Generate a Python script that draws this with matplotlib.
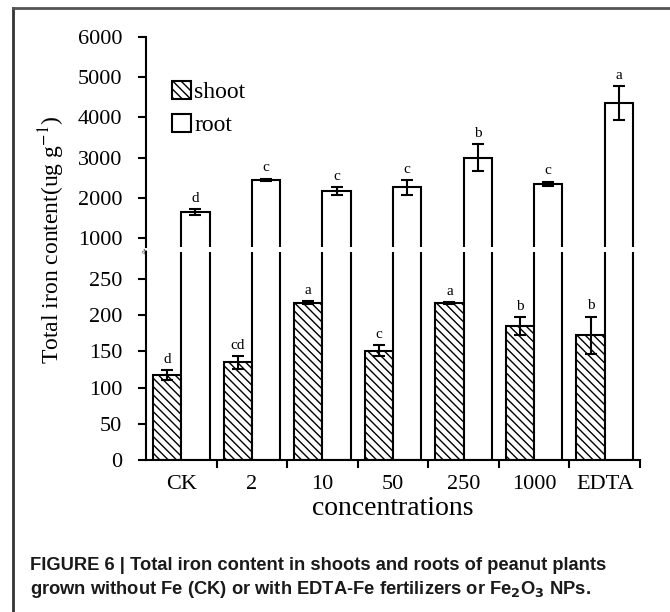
import matplotlib
matplotlib.use('Agg')
import matplotlib.pyplot as plt
from matplotlib.patches import Patch
from matplotlib.lines import Line2D
import numpy as np

categories = ['CK', '2', '10', '50', '250', '1000', 'EDTA']
shoot = [117, 135, 217, 151, 217, 185, 172]
shoot_err = [7, 9, 2, 8, 1, 12, 26]
shoot_letters = ['d', 'cd', 'a', 'c', 'a', 'b', 'b']
root = [1650, 2450, 2170, 2260, 3000, 2355, 4350]
root_err = [75, 30, 100, 190, 330, 50, 420]
root_letters = ['d', 'c', 'c', 'c', 'b', 'c', 'a']
upper_ticks = [1000, 2000, 3000, 4000, 5000, 6000]
lower_ticks = [0, 50, 100, 150, 200, 250]

plt.rcParams['font.family'] = ['Liberation Serif', 'DejaVu Serif']
plt.rcParams['hatch.linewidth'] = 1.0

W, H = 670, 612
fig = plt.figure(figsize=(W / 100, H / 100), dpi=100)


def box(l, t, r, b):
    return [l / W, 1 - b / H, (r - l) / W, (b - t) / H]


ax_lo = fig.add_axes(box(146, 252, 640, 460))
ax_hi = fig.add_axes(box(146, 36.7, 640, 247))

x = np.arange(len(categories))
bw = 0.4
hatch = '\\\\\\\\'
ekw = dict(fmt='none', ecolor='black', elinewidth=1.5, capsize=4, capthick=1.5)

for ax in (ax_lo, ax_hi):
    ax.bar(x - bw / 2, shoot, bw, facecolor='white', edgecolor='black',
           linewidth=1.5, hatch=hatch)
    ax.bar(x + bw / 2, root, bw, facecolor='white', edgecolor='black',
           linewidth=1.5)
    ax.set_xlim(-0.5, len(categories) - 0.5)
    for s in ('top', 'right'):
        ax.spines[s].set_visible(False)
    ax.spines['left'].set_linewidth(1.5)
    ax.spines['bottom'].set_linewidth(1.5)
    ax.tick_params(axis='y', direction='out', length=6, width=1.5, pad=11,
                   labelsize=16)

ax_hi.errorbar(x + bw / 2, root, yerr=root_err, **ekw)
ax_lo.errorbar(x - bw / 2, shoot, yerr=shoot_err, **ekw)

for xi, v, e, l in zip(x, root, root_err, root_letters):
    ax_hi.annotate(l, (xi + bw / 2, v + e), xytext=(0, 3),
                   textcoords='offset points', ha='center', va='bottom',
                   fontsize=11)
for xi, v, e, l in zip(x, shoot, shoot_err, shoot_letters):
    ax_lo.annotate(l, (xi - bw / 2, v + e), xytext=(0, 3),
                   textcoords='offset points', ha='center', va='bottom',
                   fontsize=11)

ax_hi.set_ylim(784, 6000)
ax_hi.set_yticks(upper_ticks)
ax_hi.spines['bottom'].set_visible(False)
ax_hi.set_xticks([])

ax_lo.set_ylim(0, 287.3)
ax_lo.set_yticks(lower_ticks)
ax_lo.set_xticks(np.append(x[:-1] + 0.5, len(categories) - 0.5))
ax_lo.set_xticklabels([])
ax_lo.set_xticks(x, minor=True)
ax_lo.set_xticklabels(categories, minor=True)
ax_lo.tick_params(axis='x', which='major', direction='out', length=6, width=1.5)
ax_lo.tick_params(axis='x', which='minor', length=0, pad=11, labelsize=16)
ax_lo.set_xlabel('concentrations', fontsize=20, labelpad=1)

# break mark on the y axis
fig.text(145 / W, 1 - 251 / H, '\u2248', fontsize=7, ha='center', va='center',
         rotation=60)

fig.text(52 / W, 1 - 240 / H, 'Total iron content(ug g$^{-1}$)', rotation=90,
         fontsize=17, ha='center', va='center', math_fontfamily='stix')

handles = [Patch(facecolor='white', edgecolor='black', hatch=hatch, linewidth=1.5),
           Patch(facecolor='white', edgecolor='black', linewidth=1.5)]
fig.legend(handles, ['shoot', 'root'], loc='upper left',
           bbox_to_anchor=(172 / W, 1 - 81 / H), frameon=False, fontsize=17,
           handlelength=0.8, handleheight=0.8, handletextpad=0.15,
           labelspacing=0.45, borderpad=0, borderaxespad=0)

# frame of the figure panel
fig.add_artist(Line2D([13 / W, 13 / W], [0, 1 - 8 / H], color='#333333', lw=2))
fig.add_artist(Line2D([13 / W, 1], [1 - 8 / H, 1 - 8 / H], color='#555555', lw=2))

cap_kw = dict(fontfamily='Liberation Sans', fontweight='bold', fontsize=13.2,
              ha='left', va='center', color='#1a1a1a', math_fontfamily='dejavusans')
fig.text(30 / W, 1 - 566 / H,
         'FIGURE 6 | Total iron content in shoots and roots of peanut plants', **cap_kw)
fig.text(30 / W, 1 - 590 / H,
         'grown without Fe (CK) or with EDTA-Fe fertilizers or Fe$_\\mathbf{2}$O$_\\mathbf{3}$ NPs.',
         **cap_kw)

fig.savefig('out.png', dpi=100)
